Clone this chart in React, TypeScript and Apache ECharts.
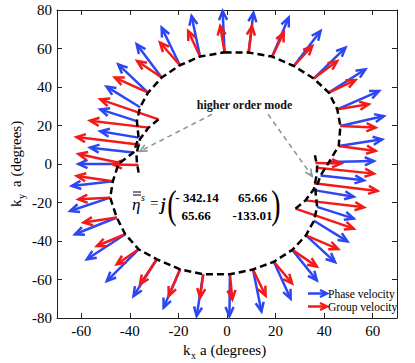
import React, { useEffect, useRef } from 'react';
import * as echarts from 'echarts';

// Phase velocity arrows (blue): start and tip, in degrees
const phaseX0 = [-1, 8.9, 18.6, 27.5, 35.7, 41.9, 45.4, 46.7, 46, 42, 38.5, 36.4, 37.1, 35.8, 32.5, 26.9, 19.3, 10.7, 1.2, -9.8, -19.3, -28.9, -36.4, -41.9, -45.4, -48.1, -47, -44.7, -38.5, -36.4, -37.1, -35.8, -32.5, -26.9, -19.4, -11.1];
const phaseY0 = [58, 57.9, 55.8, 50.9, 44.4, 37.1, 28.4, 19.7, 9.4, 1, -6, -13.7, -22.3, -29.5, -37.1, -44.6, -50.8, -54.8, -57.3, -57.3, -54.7, -49.5, -44.3, -36.5, -27.8, -17.5, -9, 0, 6, 13.7, 22.3, 29.5, 37.1, 44.9, 51.3, 55.8];
const phaseX1 = [-1.8, 10.9, 25.4, 38.5, 48.8, 57, 62.6, 64.6, 63.9, 60.5, 56.4, 52.2, 52.2, 49.6, 44.5, 37, 26.2, 14.2, 1, -12.5, -26.1, -38.5, -49.5, -57.7, -62.6, -64.6, -63.9, -61.2, -56.4, -52.2, -52.2, -49.6, -44.8, -37.2, -26.9, -14.6];
const phaseY1 = [79.5, 78.6, 76.1, 69.1, 60.5, 49.2, 37.9, 24.9, 12.8, 1.5, -8.5, -17, -28.4, -40.2, -51, -60.5, -70, -76.6, -79, -79, -74.6, -68.6, -60.8, -49.5, -36.5, -24.4, -11.4, 0, 8.5, 17, 28.4, 40.2, 51.8, 62.2, 70.9, 76.9];

// Group velocity arrows (red)
const groupX0 = [-1, 8.9, 18.6, 27.5, 35.7, 41.9, 45.4, 46.7, 46, 36.4, 37, 35.8, 32.3, 28.2, 32.5, 26.9, 19.3, 10.7, 1.2, -9.8, -19.3, -28.9, -36.4, -41.9, -45.4, -48.1, -47, -36.4, -44, -35.8, -32.3, -28.2, -32.5, -26.9, -19.4, -11.1];
const groupY0 = [58, 57.9, 55.8, 50.9, 44.4, 37.1, 28.4, 19.7, 9.4, 0.5, -2, -10, -18.9, -23.2, -37.1, -44.6, -50.8, -54.8, -57.3, -57.3, -54.7, -49.5, -44.3, -36.5, -27.8, -17.5, -9, -0.5, 0.5, 10, 18.9, 23.2, 37.1, 44.9, 51.3, 55.8];
const groupX1 = [-2.8, 10.3, 23.4, 35.1, 45.4, 52.9, 58.4, 61.2, 61.2, 47, 60.5, 62, 56.4, 52.2, 45.8, 37, 26.8, 15.9, 2.2, -11.1, -24, -35.8, -45.4, -53.6, -59.1, -61.2, -61.9, -47, -61.2, -62, -56.4, -52.2, -46.2, -37, -27.6, -16];
const groupY1 = [71.7, 71.7, 68.3, 61.3, 53.5, 43.6, 31, 18.9, 6.8, 0.3, -5, -14, -22.5, -33.6, -44.2, -53.3, -62, -68.4, -70.3, -69.4, -68.6, -62.5, -52.1, -42.6, -30.4, -18.3, -6.2, -0.2, 5.2, 14, 22.5, 33.6, 44.9, 53.5, 63.1, 69.1];

// Dispersion curve (dashed)
const curveX = [-1, 8.9, 18.6, 27.5, 35.7, 41.9, 45.4, 46.7, 46, 42, 38.5, 36.4, 37.1, 35.8, 32.5, 26.9, 19.3, 10.7, 1.2, -9.8, -19.3, -28.9, -36.4, -41.9, -45.4, -48.1, -47, -44.7, -38.5, -36.4, -37.1, -35.8, -32.5, -26.9, -19.4, -11.1, -1];
const curveY = [58, 57.9, 55.8, 50.9, 44.4, 37.1, 28.4, 19.7, 9.4, 1, -6, -13.7, -22.3, -29.5, -37.1, -44.6, -50.8, -54.8, -57.3, -57.3, -54.7, -49.5, -44.3, -36.5, -27.8, -17.5, -9, 0, 6, 13.7, 22.3, 29.5, 37.1, 44.9, 51.3, 55.8, 58];

// Higher order mode branches
const leftBranchX = [-28.2, -32.3, -35.8, -37.3, -37.1, -36.4];
const leftBranchY = [23.2, 18.9, 13, 5, 1, -4.5];
const rightBranchX = [28.2, 32.3, 35.8, 37, 37.1, 36.2];
const rightBranchY = [-23.2, -18.9, -13, -5, -1, 4.5];

// Annotation arrows (grey dashed)
const annotX0 = [-6.2, 16.9];
const annotY0 = [25.8, 25.8];
const annotX1 = [-35.9, 35.1];
const annotY1 = [6.6, -6.4];

const FAMILY = 'Liberation Serif';
const FONT = '"Liberation Serif", serif';
const BLUE = '#2c46f2';
const RED = '#f41a1a';

function arrowRender(color: string, width: number, headLen: number, dash?: number[]) {
  return (params: any, api: any) => {
    const p0 = api.coord([api.value(0), api.value(1)]);
    const p1 = api.coord([api.value(2), api.value(3)]);
    const a = Math.atan2(p1[1] - p0[1], p1[0] - p0[0]);
    const th = 0.42;
    const h1 = [p1[0] - headLen * Math.cos(a - th), p1[1] - headLen * Math.sin(a - th)];
    const h2 = [p1[0] - headLen * Math.cos(a + th), p1[1] - headLen * Math.sin(a + th)];
    return {
      type: 'group',
      children: [
        { type: 'line', shape: { x1: p0[0], y1: p0[1], x2: p1[0], y2: p1[1] }, style: { stroke: color, lineWidth: width, lineDash: dash || null, fill: null } },
        { type: 'polyline', shape: { points: [h1, p1, h2] }, style: { stroke: color, lineWidth: width, fill: null } },
      ],
    };
  };
}

function legendArrow(y: number, color: string) {
  return [
    { type: 'line', shape: { x1: 308, y1: y, x2: 327, y2: y }, style: { stroke: color, lineWidth: 2.5 } },
    { type: 'polyline', shape: { points: [[320, y - 3.5], [327, y], [320, y + 3.5]] }, style: { stroke: color, lineWidth: 2.5, fill: null } },
  ];
}

export default function App() {
  const ref = useRef<HTMLDivElement>(null);
  useEffect(() => {
    document.body.style.margin = '0';
    const chart = echarts.init(ref.current!, undefined, { renderer: 'svg' });
    const axisCommon = {
      type: 'value' as const,
      axisLine: { show: true, onZero: false, lineStyle: { color: '#222', width: 1 } },
      axisTick: { show: true, inside: true, length: 5, lineStyle: { color: '#222' } },
      splitLine: { show: false },
    };
    const tickRich = { t: { fontFamily: FAMILY, fontSize: 15, color: '#000' } };
    const tickFormatter = (v: number) => `{t|${v}}`;
    chart.setOption({
      animation: false,
      textStyle: { fontFamily: FAMILY },
      grid: { left: 57, right: 18, top: 10, bottom: 45 },
      xAxis: [
        { ...axisCommon, min: -70, max: 70, splitNumber: 7, position: 'bottom', axisLabel: { fontFamily: FAMILY, fontSize: 15, color: '#000', margin: 5, showMinLabel: false, showMaxLabel: false, formatter: tickFormatter, rich: tickRich } },
        { ...axisCommon, min: -70, max: 70, splitNumber: 7, position: 'top', axisLabel: { show: false } },
      ],
      yAxis: [
        { ...axisCommon, min: -80, max: 80, interval: 20, position: 'left', axisLabel: { fontFamily: FAMILY, fontSize: 15, color: '#000', margin: 5, formatter: tickFormatter, rich: tickRich } },
        { ...axisCommon, min: -80, max: 80, interval: 20, position: 'right', axisLabel: { show: false } },
      ],
      series: [
        {
          type: 'custom', name: 'Phase velocity', silent: true,
          renderItem: arrowRender(BLUE, 2.5, 10),
          encode: { x: [0, 2], y: [1, 3] },
          data: phaseX0.map((x, i) => [x, phaseY0[i], phaseX1[i], phaseY1[i]]),
        },
        {
          type: 'custom', name: 'Group velocity', silent: true,
          renderItem: arrowRender(RED, 2.5, 10),
          encode: { x: [0, 2], y: [1, 3] },
          data: groupX0.map((x, i) => [x, groupY0[i], groupX1[i], groupY1[i]]),
        },
        {
          type: 'line', silent: true, symbol: 'none',
          lineStyle: { color: '#000', width: 2.5, type: [7, 4] },
          data: curveX.map((x, i) => [x, curveY[i]]),
        },
        {
          type: 'line', silent: true, symbol: 'none',
          lineStyle: { color: '#000', width: 2.5, type: [7, 4] },
          data: leftBranchX.map((x, i) => [x, leftBranchY[i]]),
        },
        {
          type: 'line', silent: true, symbol: 'none',
          lineStyle: { color: '#000', width: 2.5, type: [7, 4] },
          data: rightBranchX.map((x, i) => [x, rightBranchY[i]]),
        },
        {
          type: 'custom', silent: true,
          renderItem: arrowRender('#8a9999', 1.6, 8, [5, 4]),
          encode: { x: [0, 2], y: [1, 3] },
          data: annotX0.map((x, i) => [x, annotY0[i], annotX1[i], annotY1[i]]),
        },
      ],
      graphic: [
        { type: 'text', x: 244.5, y: 105, style: { text: 'higher order mode', font: `bold 12px ${FONT}`, fill: '#111', align: 'center', verticalAlign: 'middle' } },
        // formula
        { type: 'text', x: 132, y: 204, style: { text: 'η', font: `italic 17px ${FONT}`, fill: '#000', align: 'left', verticalAlign: 'middle' } },
        { type: 'line', shape: { x1: 133, y1: 192, x2: 141, y2: 192 }, style: { stroke: '#000', lineWidth: 1 } },
        { type: 'line', shape: { x1: 133, y1: 195, x2: 141, y2: 195 }, style: { stroke: '#000', lineWidth: 1 } },
        { type: 'text', x: 141, y: 197, style: { text: 's', font: `italic 10px ${FONT}`, fill: '#000', align: 'left', verticalAlign: 'middle' } },
        { type: 'text', x: 150, y: 203, style: { text: '=', font: `15px ${FONT}`, fill: '#000', align: 'left', verticalAlign: 'middle' } },
        { type: 'text', x: 161, y: 204, style: { text: 'j', font: `italic bold 16px ${FONT}`, fill: '#000', align: 'left', verticalAlign: 'middle' } },
        { type: 'text', x: 172, y: 204, scaleX: 0.7, style: { text: '(', font: `40px ${FONT}`, fill: '#000', align: 'center', verticalAlign: 'middle' } },
        { type: 'text', x: 276, y: 204, scaleX: 0.7, style: { text: ')', font: `40px ${FONT}`, fill: '#000', align: 'center', verticalAlign: 'middle' } },
        { type: 'text', x: 197, y: 197, style: { text: '- 342.14', font: `bold 13px ${FONT}`, fill: '#000', align: 'center', verticalAlign: 'middle' } },
        { type: 'text', x: 252.5, y: 197, style: { text: '65.66', font: `bold 13px ${FONT}`, fill: '#000', align: 'center', verticalAlign: 'middle' } },
        { type: 'text', x: 196, y: 215, style: { text: '65.66', font: `bold 13px ${FONT}`, fill: '#000', align: 'center', verticalAlign: 'middle' } },
        { type: 'text', x: 252.5, y: 215, style: { text: '-133.01', font: `bold 13px ${FONT}`, fill: '#000', align: 'center', verticalAlign: 'middle' } },
        // legend
        ...legendArrow(293.5, BLUE),
        ...legendArrow(306.5, RED),
        { type: 'text', x: 328, y: 294, style: { text: 'Phase velocity', font: `11.5px ${FONT}`, fill: '#000', align: 'left', verticalAlign: 'middle' } },
        { type: 'text', x: 328, y: 307, style: { text: 'Group velocity', font: `11.5px ${FONT}`, fill: '#000', align: 'left', verticalAlign: 'middle' } },
        // x axis name
        { type: 'text', x: 183, y: 350, style: { text: 'k', font: `15px ${FONT}`, fill: '#000', align: 'left', verticalAlign: 'middle' } },
        { type: 'text', x: 191, y: 355, style: { text: 'x', font: `10px ${FONT}`, fill: '#000', align: 'left', verticalAlign: 'middle' } },
        { type: 'text', x: 200, y: 350, style: { text: 'a (degrees)', font: `15px ${FONT}`, fill: '#000', align: 'left', verticalAlign: 'middle' } },
        // y axis name
        {
          type: 'group', x: 15.5, y: 207, rotation: Math.PI / 2,
          children: [
            { type: 'text', x: 0, y: 0, style: { text: 'k', font: `15px ${FONT}`, fill: '#000', align: 'left', verticalAlign: 'middle' } },
            { type: 'text', x: 8, y: 6, style: { text: 'y', font: `10px ${FONT}`, fill: '#000', align: 'left', verticalAlign: 'middle' } },
            { type: 'text', x: 20, y: 0, style: { text: 'a (degrees)', font: `15px ${FONT}`, fill: '#000', align: 'left', verticalAlign: 'middle' } },
          ],
        },
      ],
    });
    return () => chart.dispose();
  }, []);
  return <div ref={ref} style={{ width: 415, height: 363 }} />;
}
